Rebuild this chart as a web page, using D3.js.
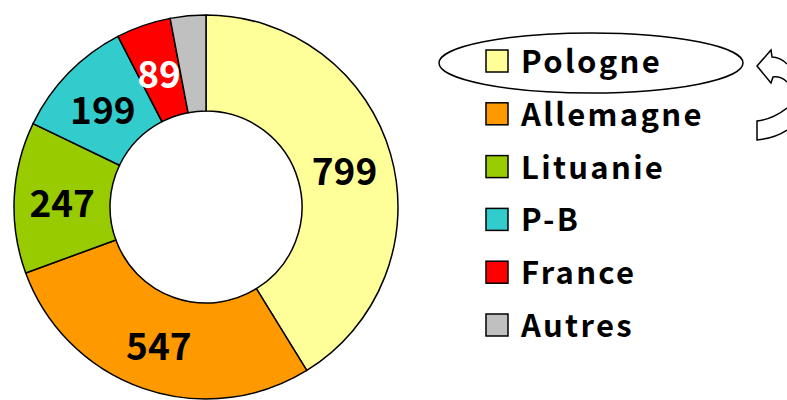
<!DOCTYPE html>
<html>
<head>
<meta charset="utf-8">
<script src="https://cdn.jsdelivr.net/npm/d3@7"></script>
<style>
  body { margin: 0; background: #fff; }
  svg { display: block; }
  text { font-family: "Noto Sans CJK JP", "Noto Sans", sans-serif; font-weight: 700; }
</style>
</head>
<body>
<svg></svg>
<script>
const width = 787;
const height = 400;

const countries = ["Pologne", "Allemagne", "Lituanie", "P-B", "France", "Autres"];
const values = [799, 547, 247, 199, 89, 58];
const colors = ["#FFFF99", "#FF9900", "#99CC00", "#33CCCC", "#FF0000", "#C0C0C0"];
const showLabel = [true, true, true, true, true, false];
const labelColors = ["#000", "#000", "#000", "#000", "#fff", "#000"];

const data = countries.map((c, i) => ({ name: c, value: values[i], color: colors[i], show: showLabel[i], labelColor: labelColors[i] }));

const svg = d3.select("svg")
    .attr("width", width)
    .attr("height", height);

const cx = 206, cy = 207;
const outerR = 192, innerR = 96;

const pie = d3.pie().sort(null).value(d => d.value);
const arc = d3.arc().innerRadius(innerR).outerRadius(outerR);

const donut = svg.append("g")
    .attr("transform", `translate(${cx},${cy})`);

const slices = donut.selectAll("g")
    .data(pie(data))
    .enter().append("g");

slices.append("path")
    .attr("d", arc)
    .attr("fill", d => d.data.color)
    .attr("stroke", "#000")
    .attr("stroke-width", 1.5);

slices.filter(d => d.data.show).append("text")
    .attr("transform", d => `translate(${arc.centroid(d)})`)
    .attr("text-anchor", "middle")
    .attr("dy", "0.46em")
    .attr("font-size", 37)
    .attr("fill", d => d.data.labelColor)
    .text(d => d.data.value);

// legend
const legendY = d3.scalePoint().domain(countries).range([61, 325]);

const legend = svg.append("g");

const item = legend.selectAll("g")
    .data(data)
    .enter().append("g")
    .attr("transform", d => `translate(486,${legendY(d.name)})`);

item.append("rect")
    .attr("x", 0)
    .attr("y", -11)
    .attr("width", 22)
    .attr("height", 22)
    .attr("fill", d => d.color)
    .attr("stroke", "#000")
    .attr("stroke-width", 1.5);

item.append("text")
    .attr("x", 35)
    .attr("y", 12)
    .attr("font-size", 31)
    .attr("letter-spacing", 2.3)
    .text(d => d.name);

// highlight ellipse around the first legend entry
svg.append("ellipse")
    .attr("cx", 591)
    .attr("cy", legendY(countries[0]) + 2)
    .attr("rx", 152)
    .attr("ry", 30)
    .attr("fill", "none")
    .attr("stroke", "#000")
    .attr("stroke-width", 1.5);

// curved arrow cut off at the right edge
svg.append("path")
    .attr("d", "M787,64 Q780,57 772,57 L771,50 L757,66 L771,83 L773,77 Q781,76 787,82")
    .attr("fill", "#fff")
    .attr("stroke", "#000")
    .attr("stroke-width", 1.5);

svg.append("path")
    .attr("d", "M787,108 Q773,119 757,121 L757,140 Q775,138 787,130")
    .attr("fill", "#fff")
    .attr("stroke", "#000")
    .attr("stroke-width", 1.5);
</script>
</body>
</html>
